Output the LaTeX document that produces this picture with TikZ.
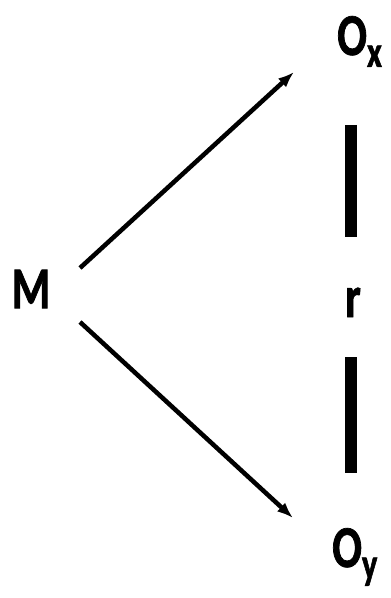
\documentclass[tikz,border=0pt]{standalone}
\usepackage{fontspec}
\setmainfont{Carlito}
\newfontfamily\lblfont[FakeStretch=0.74,BoldFeatures={FakeBold=1.2}]{Carlito}
\usetikzlibrary{arrows.meta}
\newcommand{\sub}[1]{\raisebox{-0.2em}{\fontsize{33}{36}\selectfont #1}}

\begin{document}
\begin{tikzpicture}[x=0.75pt,y=-0.75pt,>={Latex[length=12pt,width=9pt]},
   lbl/.style={font=\lblfont\fontsize{44.5}{50}\selectfont\bfseries,inner sep=0pt},
   arr/.style={line width=3.4pt,->},
   bar/.style={line width=9.5pt}]
  \useasboundingbox (0,0) rectangle (390,598);
  % labels
  \node[lbl] (M) at (31,289){M};
  \node[lbl,anchor=base west] (Ox) at (337,55){O\sub{x}};
  \node[lbl,anchor=base west] (Oy) at (332,567){O\sub{y}};
  \node[lbl,anchor=base] (r) at (353,317){r};
  % arrow ends
  \coordinate (mtop) at (80,268);
  \coordinate (xtip) at (294,72);
  \coordinate (mbot) at (80,322);
  \coordinate (ytip) at (293,518);
  \draw[arr] (mtop) -- (xtip);
  \draw[arr] (mbot) -- (ytip);
  % bars
  \coordinate (b1) at (351,125);
  \coordinate (b2) at (351,237);
  \coordinate (b3) at (351,357);
  \coordinate (b4) at (351,473);
  \draw[bar] (b1) -- (b2);
  \draw[bar] (b3) -- (b4);
\end{tikzpicture}
\end{document}
